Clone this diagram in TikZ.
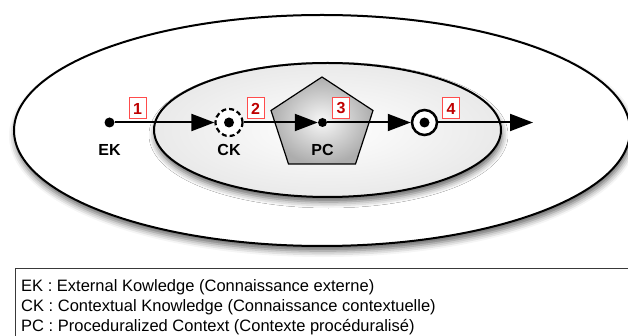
\documentclass[tikz,border=0pt]{standalone}
\usepackage{fontspec}
\setmainfont{Liberation Sans}
\usetikzlibrary{positioning,
	shapes.geometric,
	arrows.meta,
	shadows.blur}
\tikzstyle{pt}=[circle, fill=black, inner sep=0, minimum size=10pt]
\tikzstyle{ring}=[circle, draw, fill=white, line width=2.2pt, inner sep=0, minimum size=25pt]
\tikzstyle{num}=[draw=red!70!white, fill=white, text=red!75!black, line width=1pt,
		font=\bfseries\fontsize{16}{16}\selectfont, inner sep=0, minimum width=17pt, minimum height=21pt]
\tikzstyle{lbl}=[font=\bfseries\fontsize{16}{16}\selectfont, inner sep=0]
\tikzstyle{flow}=[line width=2pt, -{Triangle[length=23pt,width=17pt]}]
\tikzstyle{zone}=[ellipse, draw, line width=2pt, inner sep=0,
		blur shadow={shadow xshift=1pt, shadow yshift=-5pt, shadow blur radius=6pt, shadow opacity=60}]

\begin{document}
\begin{tikzpicture}[x=1pt,y=-1pt]
	\useasboundingbox (0,0) rectangle (628,336);
	% contexts
	\node[zone, fill=white, minimum width=616pt, minimum height=231pt] (outer) at (322,130.5) {};
	\node[zone, inner color=white, outer color=gray!17, minimum width=347pt, minimum height=134pt] (inner) at (327.5,130) {};
	\draw[line width=1.2pt, inner color=gray!6, outer color=gray!64]
		(322,77) -- (373,110.5) -- (355.5,164) -- (288.5,164) -- (271,110.5) -- cycle;
	% steps
	\node[pt] (EK) at (109.5,122.5) {};
	\node[ring, dash pattern=on 5pt off 3pt, minimum size=27pt] (CK) at (229,122.5) {};
	\node[pt] (CKc) at (CK) {};
	\node[pt, minimum size=9pt] (PC) at (322.5,122.5) {};
	\node[ring, line width=2.5pt] (out) at (424.5,122.5) {};
	\node[pt] (outc) at (out) {};
	\coordinate (end) at (533,122.5);
	\draw[flow] (EK) -- (CK);
	\draw[flow] (CK) -- (PC);
	\draw[flow] (PC) -- (out);
	\draw[flow] (out) -- (end);
	% labels
	\node[lbl, below=21.5pt of EK.center] (lEK) {EK};
	\node[lbl, below=21.5pt of CK.center] (lCK) {CK};
	\node[lbl, below=21.5pt of PC.center] (lPC) {PC};
	\node[num] (n1) at (137.5,108.5) {1};
	\node[num] (n2) at (255.5,108.5) {2};
	\node[num] (n3) at (341,108.5) {3};
	\node[num] (n4) at (451,108.5) {4};
	% legend
	\draw[gray!45!black, line width=1pt] (15,268) rectangle (660,360);
	\node[anchor=north west, align=left, inner sep=0, font=\fontsize{16.5}{20.3}\selectfont] (legend) at (21,279)
		{EK : External Kowledge (Connaissance externe)\\
		CK : Contextual Knowledge (Connaissance contextuelle)\\
		PC : Proceduralized Context (Contexte proc\'eduralis\'e)};
\end{tikzpicture}
\end{document}
